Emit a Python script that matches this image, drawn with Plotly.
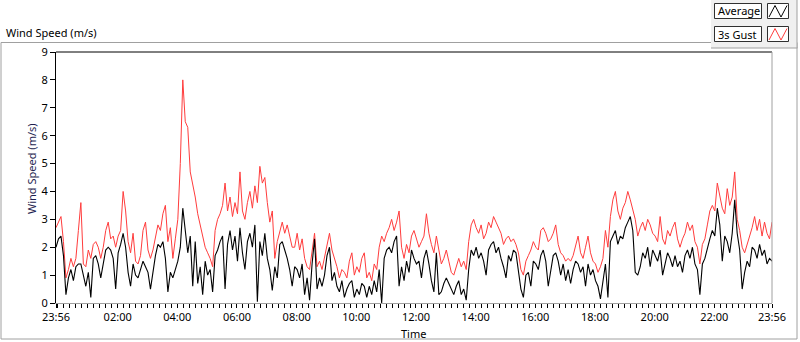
import pandas as pd
import plotly.graph_objects as go

# ---- data (5-minute samples, 23:56 -> 23:56 next day) ----
start_time = "2015-06-01 23:56"
sample_minutes = 5

average = [
    2.0,2.3,2.4,1.7,0.3,0.9,1.2,0.8,1.3,1.4, 1.4,1.0,0.6,1.1,0.2,1.6,1.7,1.4,0.9,1.4,
    1.9,2.0,1.9,1.6,0.5,1.8,2.1,2.5,2.0,1.1, 0.6,1.4,1.0,0.9,1.2,1.5,1.3,1.1,0.5,1.2,
    1.7,2.1,2.0,2.2,1.6,0.4,1.1,0.9,
    1.2,1.5,2.0,3.4,2.6,1.8,2.4,0.6,
    2.2,0.7,1.3,0.3,1.5,1.0,1.2,0.4,1.7,1.9, 2.2,2.4,0.5,2.1,2.6,1.9,2.4,1.5,2.7,1.8,
    1.2,2.2,2.5,2.0,2.8,0.05,2.2,1.7,2.5,1.6, 1.2,0.45,1.3,0.9,2.1,2.2,1.9,1.6,1.2,0.6,
    1.3,1.2,0.9,1.4,0.3,0.9,0.1,1.4,2.3,0.5, 0.9,0.6,1.0,1.7,2.0,0.8,1.1,0.6,0.4,0.8,
    0.2,0.5,0.7,0.8,0.2,0.5,0.3,0.7,0.6,0.2, 0.6,0.3,0.8,0.4,1.2,0.0,1.6,1.9,2.0,1.8,
    2.2,2.4,0.6,1.3,0.8,1.5,1.1,1.9,1.6,
    1.4,1.5,0.9,1.6,1.9,1.4,0.8,0.4,1.8,0.3, 0.4,0.7,0.9,0.7,0.5,0.3,0.6,0.8,0.3,0.5,
    0.1,1.2,1.9,1.7,2.0,1.6,1.8,1.5,1.0,1.9, 2.1,2.2,1.8,2.0,1.6,1.3,0.9,1.7,1.5,1.9,
    1.8,1.2,0.5,0.2,1.0,1.1,0.6,1.5,1.4,
    1.2,1.7,1.9,1.5,0.6,1.1,1.7,1.8,1.5,1.0, 1.4,0.8,1.2,0.7,1.2,1.5,1.4,1.1,1.3,0.6,
    1.4,1.0,1.2,0.8,0.6,0.15,0.8,1.4,0.2,2.2, 2.4,2.6,2.1,2.4,2.3,2.7,2.9,3.1,2.6,1.1,
    1.0,1.3,1.8,1.6,2.0,1.3,1.9,1.7,
    1.5,1.9,1.0,1.4,1.8,1.6,1.3,1.7,1.3,1.5, 1.1,1.7,1.9,1.6,2.0,1.4,1.2,0.3,1.4,1.6,
    2.0,2.3,2.6,2.4,3.4,2.8,1.5,2.4,2.2,1.8, 2.5,3.7,2.5,1.9,0.5,1.1,1.5,1.3,2.0,1.9,
    1.6,2.1,1.7,1.9,1.4,1.6,1.5,
]

gust_3s = [
    2.7,2.9,3.1,2.2,0.9,1.2,1.6,1.3,1.6,2.6, 3.6,1.4,1.3,1.9,1.6,2.1,2.2,2.0,1.6,2.0,
    2.6,2.9,2.3,2.4,2.0,2.4,2.6,4.0,3.3,2.2, 1.8,2.5,1.5,1.4,1.7,2.6,2.9,1.9,1.6,1.9,
    2.3,2.8,2.6,3.2,3.5,2.2,2.7,1.6,
    2.3,3.0,5.0,8.0,6.5,6.3,4.7,4.3,
    3.8,3.2,2.8,2.3,2.0,1.8,1.6,1.3,2.6,3.0, 3.2,3.5,4.3,3.3,3.8,3.1,3.6,3.2,4.7,3.3,
    3.0,3.6,4.0,3.4,4.2,3.6,4.9,4.3,4.5,3.6, 2.9,3.3,1.6,2.2,2.6,2.9,2.5,2.8,2.4,2.0,
    2.0,2.5,1.9,2.3,1.6,1.3,1.2,1.8,2.5,1.3, 1.5,1.2,1.6,2.1,2.5,1.9,1.6,1.3,0.9,1.2,
    1.1,0.9,1.5,1.8,1.0,1.3,1.1,1.6,1.8,0.9, 1.1,0.8,1.4,1.2,2.0,2.4,2.2,2.5,2.7,3.0,
    2.6,2.9,3.3,2.0,1.6,2.1,1.8,2.4,2.6,
    2.3,2.0,2.2,2.4,3.2,2.5,2.1,1.8,2.4,1.9, 1.4,1.6,1.9,1.5,1.1,1.0,1.3,1.6,1.3,1.5,
    1.2,2.2,2.8,3.0,2.7,2.5,2.8,2.3,2.5,2.9, 2.7,3.1,2.9,2.7,2.5,2.1,2.3,2.4,2.2,2.3,
    2.1,1.8,1.2,1.0,1.5,1.7,1.9,2.2,2.0,
    1.9,2.6,2.7,2.5,2.2,2.3,2.5,2.8,2.1,1.8, 1.7,1.5,1.6,1.5,1.7,2.1,2.4,1.8,1.6,2.0,
    2.4,1.8,1.5,1.4,1.1,1.3,1.6,2.6,2.0,3.1, 3.7,4.0,3.3,3.0,3.4,3.6,4.0,3.7,3.3,3.0,
    2.4,2.7,2.9,2.6,3.0,2.8,2.5,2.4,
    2.2,3.1,2.3,2.1,2.6,2.4,2.7,2.9,2.3,2.0, 2.3,2.5,2.9,2.6,2.8,2.2,2.0,1.4,2.1,2.3,
    2.8,3.3,3.5,3.3,4.3,3.9,3.4,3.2,4.1,3.5, 3.8,4.7,3.0,2.6,2.0,1.8,2.1,2.4,2.7,3.1,
    2.6,3.0,2.4,2.9,2.5,2.3,2.9,
]

tick_times = ["2015-06-01 23:56", "2015-06-02 02:00", "2015-06-02 04:00", "2015-06-02 06:00",
              "2015-06-02 08:00", "2015-06-02 10:00", "2015-06-02 12:00", "2015-06-02 14:00",
              "2015-06-02 16:00", "2015-06-02 18:00", "2015-06-02 20:00", "2015-06-02 22:00",
              "2015-06-02 23:56"]
tick_labels = ["23:56", "02:00", "04:00", "06:00", "08:00", "10:00", "12:00", "14:00",
               "16:00", "18:00", "20:00", "22:00", "23:56"]

times = pd.date_range(start_time, periods=len(average), freq=f"{sample_minutes}min")

# ---- geometry ----
W, H = 800, 342
L, R, T, B = 56, 28, 52, 39
PW, PH = W - L - R, H - T - B
FONT = "Noto Sans"
FS = 11


def px(x):
    return (x - L) / PW


def py(y):
    return (H - B - y) / PH


fig = go.Figure()
fig.add_trace(go.Scatter(x=times, y=gust_3s, mode="lines", name="3s Gust",
                         line=dict(color="#ff3c3c", width=1), showlegend=False))
fig.add_trace(go.Scatter(x=times, y=average, mode="lines", name="Average",
                         line=dict(color="#000000", width=1.1), showlegend=False))

fig.update_layout(
    width=W, height=H, margin=dict(l=L, r=R, t=T, b=B, pad=0, autoexpand=False),
    paper_bgcolor="white", plot_bgcolor="white",
    font=dict(family=FONT, size=FS, color="#000000"),
    showlegend=False,
    xaxis=dict(
        type="date", range=[tick_times[0], tick_times[-1]],
        tickvals=tick_times, ticktext=tick_labels,
        ticks="outside", ticklen=4, tickcolor="#000000", tickwidth=1,
        showline=True, linecolor="#a0a0a0", linewidth=1, mirror=False,
        showgrid=False, zeroline=False, automargin=False,
        tickfont=dict(size=FS, family=FONT),
        minor=dict(ticks="outside", ticklen=4, tickcolor="#000000",
                   dtick=12 * 60 * 1000, tick0="2015-06-02 00:00", showgrid=False),
    ),
    yaxis=dict(
        range=[0, 9], dtick=1, tick0=0,
        ticks="outside", ticklen=5, tickcolor="#000000",
        showline=True, linecolor="#000000", linewidth=1, mirror=False,
        showgrid=False, zeroline=False, automargin=False,
        tickfont=dict(size=FS, family=FONT),
    ),
)

shapes = []
# outer frame
shapes.append(dict(type="rect", xref="paper", yref="paper",
                   x0=px(1), x1=px(797), y0=py(339), y1=py(42.5),
                   line=dict(color="#a0a0a0", width=1), fillcolor="rgba(0,0,0,0)", layer="below"))
# plot top (dark) and right (light) borders
shapes.append(dict(type="line", xref="paper", yref="paper", x0=0, x1=1, y0=1, y1=1,
                   line=dict(color="#000000", width=1)))
shapes.append(dict(type="line", xref="paper", yref="paper", x0=1, x1=1, y0=0, y1=1,
                   line=dict(color="#a0a0a0", width=1)))
# legend panel
shapes.append(dict(type="rect", xref="paper", yref="paper",
                   x0=px(711), x1=px(797), y0=py(48), y1=py(0),
                   line=dict(width=0), fillcolor="#f0f0f0"))
shapes.append(dict(type="line", xref="paper", yref="paper", x0=px(711), x1=px(797.5),
                   y0=py(48), y1=py(48), line=dict(color="#a0a0a0", width=1)))
shapes.append(dict(type="line", xref="paper", yref="paper", x0=px(797), x1=px(797),
                   y0=py(48), y1=py(0), line=dict(color="#a0a0a0", width=1)))
for (y0, y1) in [(3.5, 18.5), (26.5, 41.5)]:
    shapes.append(dict(type="rect", xref="paper", yref="paper",
                       x0=px(714.5), x1=px(761.5), y0=py(y1), y1=py(y0),
                       line=dict(color="#303030", width=1), fillcolor="white"))
    shapes.append(dict(type="rect", xref="paper", yref="paper",
                       x0=px(767.5), x1=px(788.5), y0=py(y1), y1=py(y0),
                       line=dict(color="#303030", width=1), fillcolor="white"))


def zig(y0, y1):
    pts = [(769, y1 - 1.5), (775, y0 + 2), (781, y1 - 1.5), (787, y0 + 2)]
    return "M " + " L ".join(f"{px(a)},{py(b)}" for a, b in pts)


shapes.append(dict(type="path", xref="paper", yref="paper", path=zig(3.5, 18.5),
                   line=dict(color="#000000", width=1)))
shapes.append(dict(type="path", xref="paper", yref="paper", path=zig(26.5, 41.5),
                   line=dict(color="#ff3c3c", width=1)))
fig.update_layout(shapes=shapes)

ann = [
    dict(text="Wind Speed (m/s)", xref="paper", yref="paper", x=px(4), y=py(32),
         xanchor="left", yanchor="middle", showarrow=False, font=dict(size=FS, family=FONT)),
    dict(text="Wind Speed (m/s)", xref="paper", yref="paper", x=px(31), y=py(169),
         xanchor="center", yanchor="middle", textangle=-90, showarrow=False,
         font=dict(size=FS, family=FONT, color="#1e1e50")),
    dict(text="Time", xref="paper", yref="paper", x=px(413), y=py(333),
         xanchor="center", yanchor="middle", showarrow=False, font=dict(size=FS, family=FONT)),
    dict(text="Average", xref="paper", yref="paper", x=px(716), y=py(11),
         xanchor="left", yanchor="middle", showarrow=False, font=dict(size=FS, family=FONT)),
    dict(text="3s Gust", xref="paper", yref="paper", x=px(716), y=py(34),
         xanchor="left", yanchor="middle", showarrow=False, font=dict(size=FS, family=FONT)),
]
fig.update_layout(annotations=ann)

fig.write_html(
    "out.html",
    config={"displayModeBar": False},
    post_script="document.body.style.margin='0';document.body.style.padding='0';"
                "document.body.style.overflow='hidden';",
)
